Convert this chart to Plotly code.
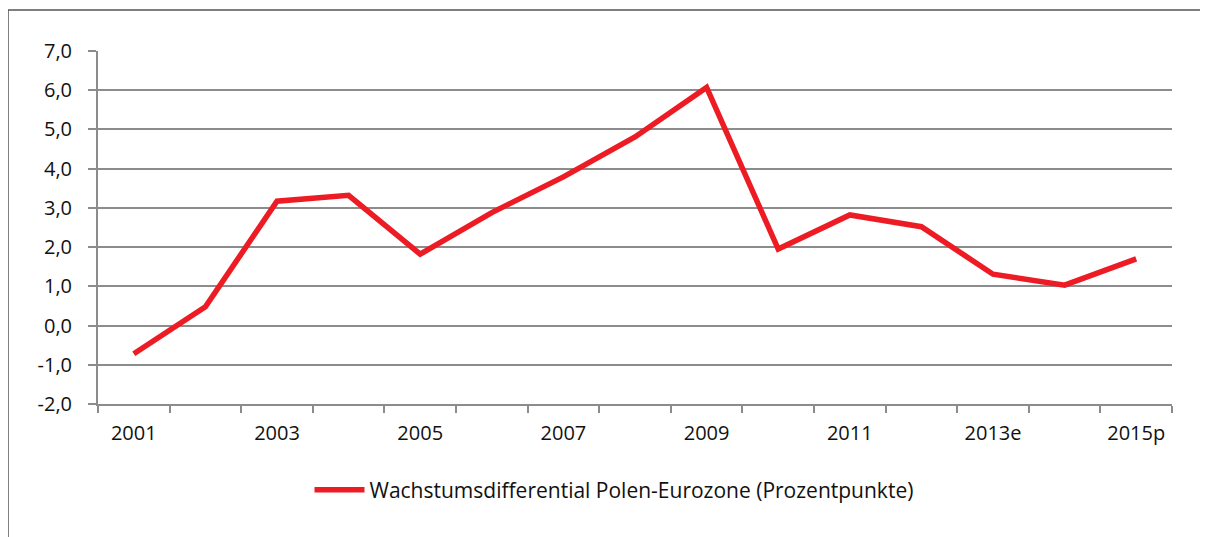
import plotly.graph_objects as go

years = ["2001", "2002", "2003", "2004", "2005", "2006", "2007", "2008",
         "2009", "2010", "2011", "2012", "2013e", "2014e", "2015p"]
tick_labels = ["2001", "", "2003", "", "2005", "", "2007", "",
               "2009", "", "2011", "", "2013e", "", "2015p"]
differential = [-0.72, 0.48, 3.17, 3.32, 1.82, 2.88, 3.79, 4.81,
                6.07, 1.95, 2.82, 2.52, 1.31, 1.03, 1.70]
y_ticks = [-2, -1, 0, 1, 2, 3, 4, 5, 6, 7]
y_tick_labels = ["-2,0", "-1,0", "0,0", "1,0", "2,0", "3,0", "4,0", "5,0", "6,0", "7,0"]
series_name = "Wachstumsdifferential Polen-Eurozone (Prozentpunkte)"

FONT = "Open Sans"
GRID = "#8c8c8c"

# page body has an 8px margin in the browser; figure is sized to fit within it
W, H = 1200, 529
L, T, R, B = 90, 43, 36, 133
PW, PH = W - L - R, H - T - B

fig = go.Figure()
fig.add_trace(go.Scatter(
    x=years, y=differential, mode="lines", name=series_name,
    line=dict(color="#ED1C24", width=5.5),
    showlegend=True,
))

fig.update_layout(
    width=W, height=H,
    margin=dict(l=L, r=R, t=T, b=B, pad=0),
    paper_bgcolor="white", plot_bgcolor="white",
    font=dict(family=FONT, size=20, color="#111111"),
    showlegend=True,
    legend=dict(orientation="h", x=(614 - 8 - L) / PW, xanchor="center",
                y=-(490 - 404) / PH, yanchor="middle",
                font=dict(family=FONT, size=21, color="#111111"),
                itemwidth=50, bgcolor="rgba(0,0,0,0)"),
    xaxis=dict(
        type="category", tickmode="array", tickvals=years, ticktext=tick_labels,
        tickson="boundaries", ticks="outside", ticklen=7, tickwidth=2, tickcolor=GRID,
        showline=True, linecolor=GRID, linewidth=2, showgrid=False,
        range=[-0.5, 14.5], tickfont=dict(size=20), zeroline=False,
        ticklabelstandoff=10,
    ),
    yaxis=dict(
        range=[-2, 7], tickmode="array", tickvals=y_ticks, ticktext=y_tick_labels,
        ticks="outside", ticklen=8, tickwidth=2, tickcolor=GRID,
        showline=True, linecolor=GRID, linewidth=2,
        showgrid=True, gridcolor=GRID, gridwidth=2,
        zeroline=False, tickfont=dict(size=20),
        ticklabelstandoff=12,
    ),
)

# outer chart frame (top and left edges)
fx0 = (0 - L) / PW
fx1 = (W + 5 - L) / PW
fy_top = (PH + T - 2) / PH
fy_bot = (PH + T - H - 5) / PH
fig.add_shape(type="line", xref="paper", yref="paper",
              x0=fx0, x1=fx1, y0=fy_top, y1=fy_top,
              line=dict(color="#555555", width=1.5))
fig.add_shape(type="line", xref="paper", yref="paper",
              x0=fx0, x1=fx0, y0=fy_top, y1=fy_bot,
              line=dict(color="#555555", width=1.5))

fig.write_html("out.html")
